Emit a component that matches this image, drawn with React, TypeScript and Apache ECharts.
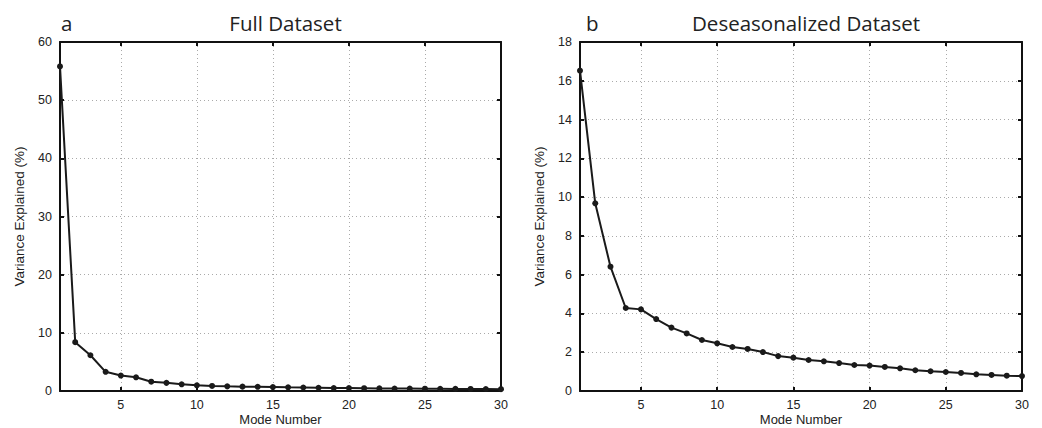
import React, { useEffect, useRef } from "react";
import * as echarts from "echarts";

const modeNumbers = [1, 2, 3, 4, 5, 6, 7, 8, 9, 10, 11, 12, 13, 14, 15, 16, 17, 18, 19, 20, 21, 22, 23, 24, 25, 26, 27, 28, 29, 30];
const fullVariance = [55.8, 8.4, 6.15, 3.3, 2.65, 2.35, 1.6, 1.4, 1.15, 0.98, 0.87, 0.8, 0.75, 0.72, 0.68, 0.63, 0.6, 0.56, 0.52, 0.5, 0.48, 0.45, 0.43, 0.42, 0.4, 0.38, 0.36, 0.35, 0.34, 0.32];
const deseasVariance = [16.52, 9.68, 6.41, 4.28, 4.21, 3.71, 3.27, 2.97, 2.63, 2.46, 2.27, 2.17, 2.01, 1.8, 1.72, 1.6, 1.53, 1.44, 1.34, 1.31, 1.24, 1.17, 1.07, 1.02, 0.98, 0.93, 0.86, 0.83, 0.79, 0.77];
const xTickValues = [5, 10, 15, 20, 25, 30];
const panelLetters = ["a", "b"];
const panelTitles = ["Full Dataset", "Deseasonalized Dataset"];
const yMaxes = [60, 18];
const yIntervals = [10, 2];
const xAxisName = "Mode Number";
const yAxisName = "Variance Explained (%)";

const TICK_FONT = "'Liberation Sans', Arial, sans-serif";
const TITLE_FONT = "'Open Sans', 'Noto Sans', sans-serif";

const grids = [
  { left: 60, top: 42, width: 441, height: 349, outerBoundsMode: "none", containLabel: false },
  { left: 580, top: 42, width: 442, height: 349, outerBoundsMode: "none", containLabel: false },
];
const letterLefts = [56, 581];

export default function App() {
  const ref = useRef<HTMLDivElement>(null);
  useEffect(() => {
    if (!ref.current) return;
    const chart = echarts.init(ref.current, undefined, { renderer: "svg" });
    const xAxes: any[] = [];
    const yAxes: any[] = [];
    const series: any[] = [];
    const lineStyle = { color: "#111", width: 2 };
    const splitStyle = { show: true, lineStyle: { color: "#aaa", type: [1, 3], width: 1 } };
    [0, 1].forEach((g) => {
      xAxes.push({
        type: "value",
        gridIndex: g,
        min: 1,
        max: 30,
        position: "bottom",
        name: xAxisName,
        nameLocation: "middle",
        nameGap: 21,
        nameMoveOverlap: false,
        nameTextStyle: { fontFamily: TICK_FONT, fontSize: 13, lineHeight: 14, color: "#222" },
        axisLine: { show: true, onZero: false, lineStyle },
        axisTick: { show: true, inside: true, length: 4, customValues: xTickValues, lineStyle },
        axisLabel: { show: true, customValues: xTickValues, fontFamily: TICK_FONT, fontSize: 12.5, color: "#222", margin: 7 },
        splitLine: splitStyle,
      });
      xAxes.push({
        type: "value",
        gridIndex: g,
        min: 1,
        max: 30,
        position: "top",
        axisLine: { show: true, onZero: false, lineStyle },
        axisTick: { show: true, inside: true, length: 4, customValues: xTickValues, lineStyle },
        axisLabel: { show: false, customValues: xTickValues },
        splitLine: { show: false },
      });
      yAxes.push({
        type: "value",
        gridIndex: g,
        min: 0,
        max: yMaxes[g],
        interval: yIntervals[g],
        position: "left",
        name: yAxisName,
        nameLocation: "middle",
        nameGap: 34,
        nameMoveOverlap: false,
        nameTextStyle: { fontFamily: TICK_FONT, fontSize: 13.5, color: "#222" },
        axisLine: { show: true, onZero: false, lineStyle },
        axisTick: { show: true, inside: true, length: 4, lineStyle },
        axisLabel: { show: true, fontFamily: TICK_FONT, fontSize: 12.5, color: "#222", margin: 8 },
        splitLine: splitStyle,
      });
      yAxes.push({
        type: "value",
        gridIndex: g,
        min: 0,
        max: yMaxes[g],
        interval: yIntervals[g],
        position: "right",
        axisLine: { show: true, onZero: false, lineStyle },
        axisTick: { show: true, inside: true, length: 4, lineStyle },
        axisLabel: { show: false },
        splitLine: { show: false },
      });
      const values = g === 0 ? fullVariance : deseasVariance;
      series.push({
        type: "line",
        xAxisIndex: g * 2,
        yAxisIndex: g * 2,
        data: modeNumbers.map((m, i) => [m, values[i]]),
        symbol: "circle",
        symbolSize: 6,
        showSymbol: true,
        itemStyle: { color: "#1a1a1a" },
        lineStyle: { color: "#1a1a1a", width: 2 },
        clip: false,
        z: 5,
      });
    });

    const titles: any[] = [];
    [0, 1].forEach((g) => {
      const gr = grids[g];
      titles.push({
        text: panelTitles[g],
        left: gr.left + gr.width / 2,
        top: 7,
        textAlign: "center",
        textStyle: { fontFamily: TITLE_FONT, fontSize: 20.5, fontWeight: "normal", color: "#222" },
      });
      titles.push({
        text: panelLetters[g],
        left: letterLefts[g],
        top: 7,
        textStyle: { fontFamily: TITLE_FONT, fontSize: 20.5, fontWeight: "normal", color: "#222" },
      });
    });

    chart.setOption({
      animation: false,
      backgroundColor: "#fff",
      title: titles,
      grid: grids,
      xAxis: xAxes,
      yAxis: yAxes,
      series,
    });
    return () => chart.dispose();
  }, []);
  return (
    <div
      ref={ref}
      style={{ position: "absolute", left: 0, top: 0, width: 1042, height: 428 }}
    />
  );
}
